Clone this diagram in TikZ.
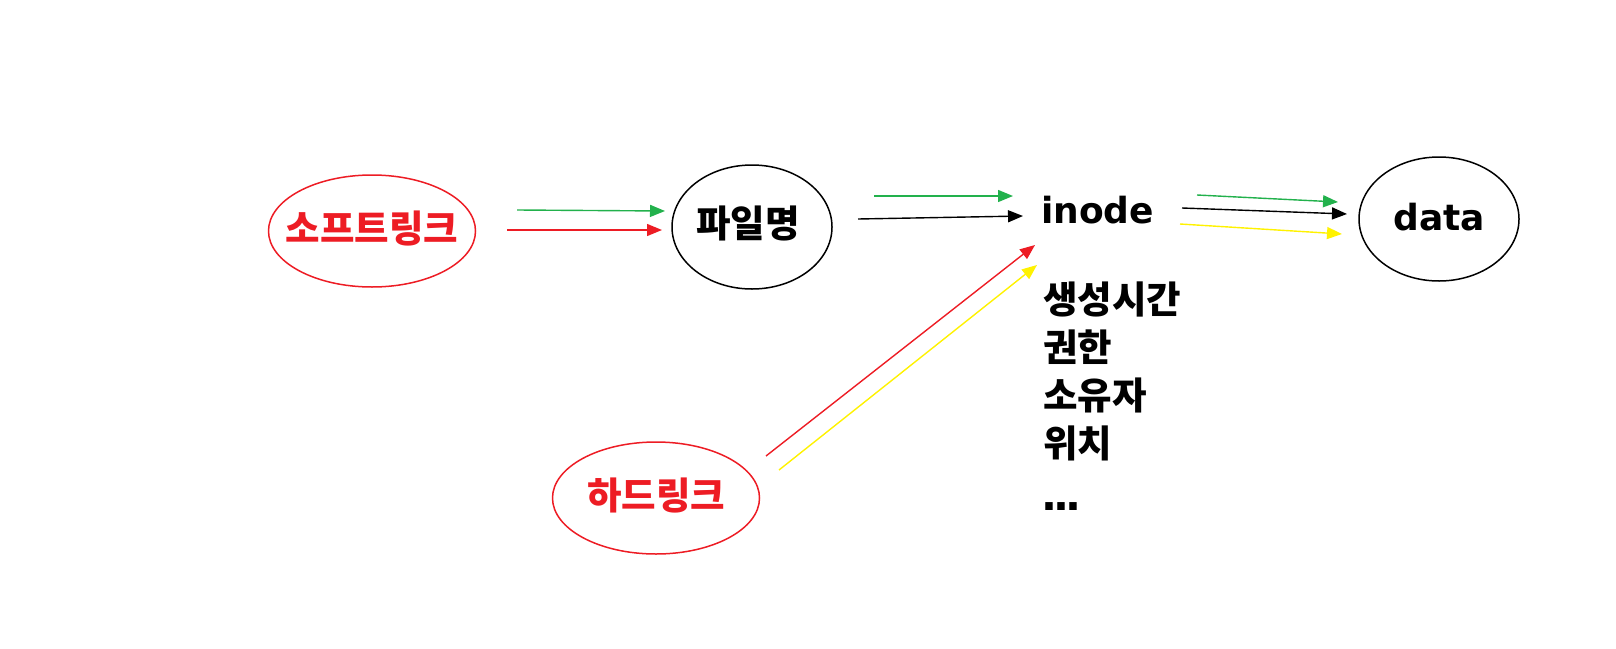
\documentclass[tikz,border=0pt]{standalone}
\usepackage{fontspec}
\setmainfont{Noto Sans CJK KR}
\newfontfamily\latinbold{DejaVu Sans}[BoldFont={DejaVu Sans Bold}]
\usetikzlibrary{positioning, shapes.geometric, arrows.meta}

\definecolor{linkred}{RGB}{237,28,36}
\definecolor{linkgreen}{RGB}{34,177,76}
\definecolor{linkyellow}{RGB}{255,242,0}

\tikzset{
  oval/.style={ellipse, draw, line width=1.5pt, inner sep=0pt},
  linkoval/.style={oval, draw=linkred, minimum width=207, minimum height=112},
  fileoval/.style={oval, minimum width=160, minimum height=124},
  krtext/.style={inner sep=0pt, font=\fontsize{37.5}{40}\selectfont\bfseries},
  entext/.style={inner sep=0pt, font=\latinbold\fontsize{36}{40}\selectfont\bfseries},
  arr/.style={-{Triangle[length=15pt, width=12pt]}, line width=1.4pt},
}

\begin{document}
\begin{tikzpicture}[x=1pt, y=-1pt]
\useasboundingbox (0,0) rectangle (1616,648);

% nodes
\node[linkoval, label={[krtext, text=linkred, yshift=2]center:소프트링크}] (soft) at (372,231) {};
\node[linkoval, label={[krtext, text=linkred, yshift=2]center:하드링크}] (hard) at (656,498) {};
\node[fileoval, label={[krtext, xshift=-4, yshift=4]center:파일명}] (fname) at (752,227) {};
\node[fileoval, label={[entext, yshift=2]center:data}] (data) at (1439,219) {};
\node[entext, anchor=base west] (inode) at (1041,223) {inode};

% inode attributes
\node[krtext, anchor=base west] (ctime) at (1043,313) {생성시간};
\node[krtext, anchor=base west] (perm) at (1043,361) {권한};
\node[krtext, anchor=base west] (owner) at (1043,409) {소유자};
\node[krtext, anchor=base west] (place) at (1043,457) {위치};
\node[entext, font=\latinbold\fontsize{42}{44}\selectfont\bfseries, anchor=base west] (more) at (1041,510) {.\kern-4pt.\kern-4pt.};

% arrow ends
\coordinate (g1s) at (517,210);  \coordinate (g1e) at (665,211);
\coordinate (r1s) at (507,230);  \coordinate (r1e) at (662,230);
\coordinate (g2s) at (874,196);  \coordinate (g2e) at (1013,196);
\coordinate (b1s) at (858,219);  \coordinate (b1e) at (1023,216);
\coordinate (r2s) at (766,456);  \coordinate (r2e) at (1035,245);
\coordinate (y1s) at (779,470);  \coordinate (y1e) at (1037,265);
\coordinate (g3s) at (1197,195); \coordinate (g3e) at (1338,202);
\coordinate (b2s) at (1182,208); \coordinate (b2e) at (1347,214);
\coordinate (y2s) at (1180,224); \coordinate (y2e) at (1342,234);

\draw[arr, linkgreen] (g1s) -- (g1e);
\draw[arr, linkred] (r1s) -- (r1e);
\draw[arr, linkgreen] (g2s) -- (g2e);
\draw[arr] (b1s) -- (b1e);
\draw[arr, linkred] (r2s) -- (r2e);
\draw[arr, linkyellow] (y1s) -- (y1e);
\draw[arr, linkgreen] (g3s) -- (g3e);
\draw[arr] (b2s) -- (b2e);
\draw[arr, linkyellow] (y2s) -- (y2e);
\end{tikzpicture}
\end{document}
